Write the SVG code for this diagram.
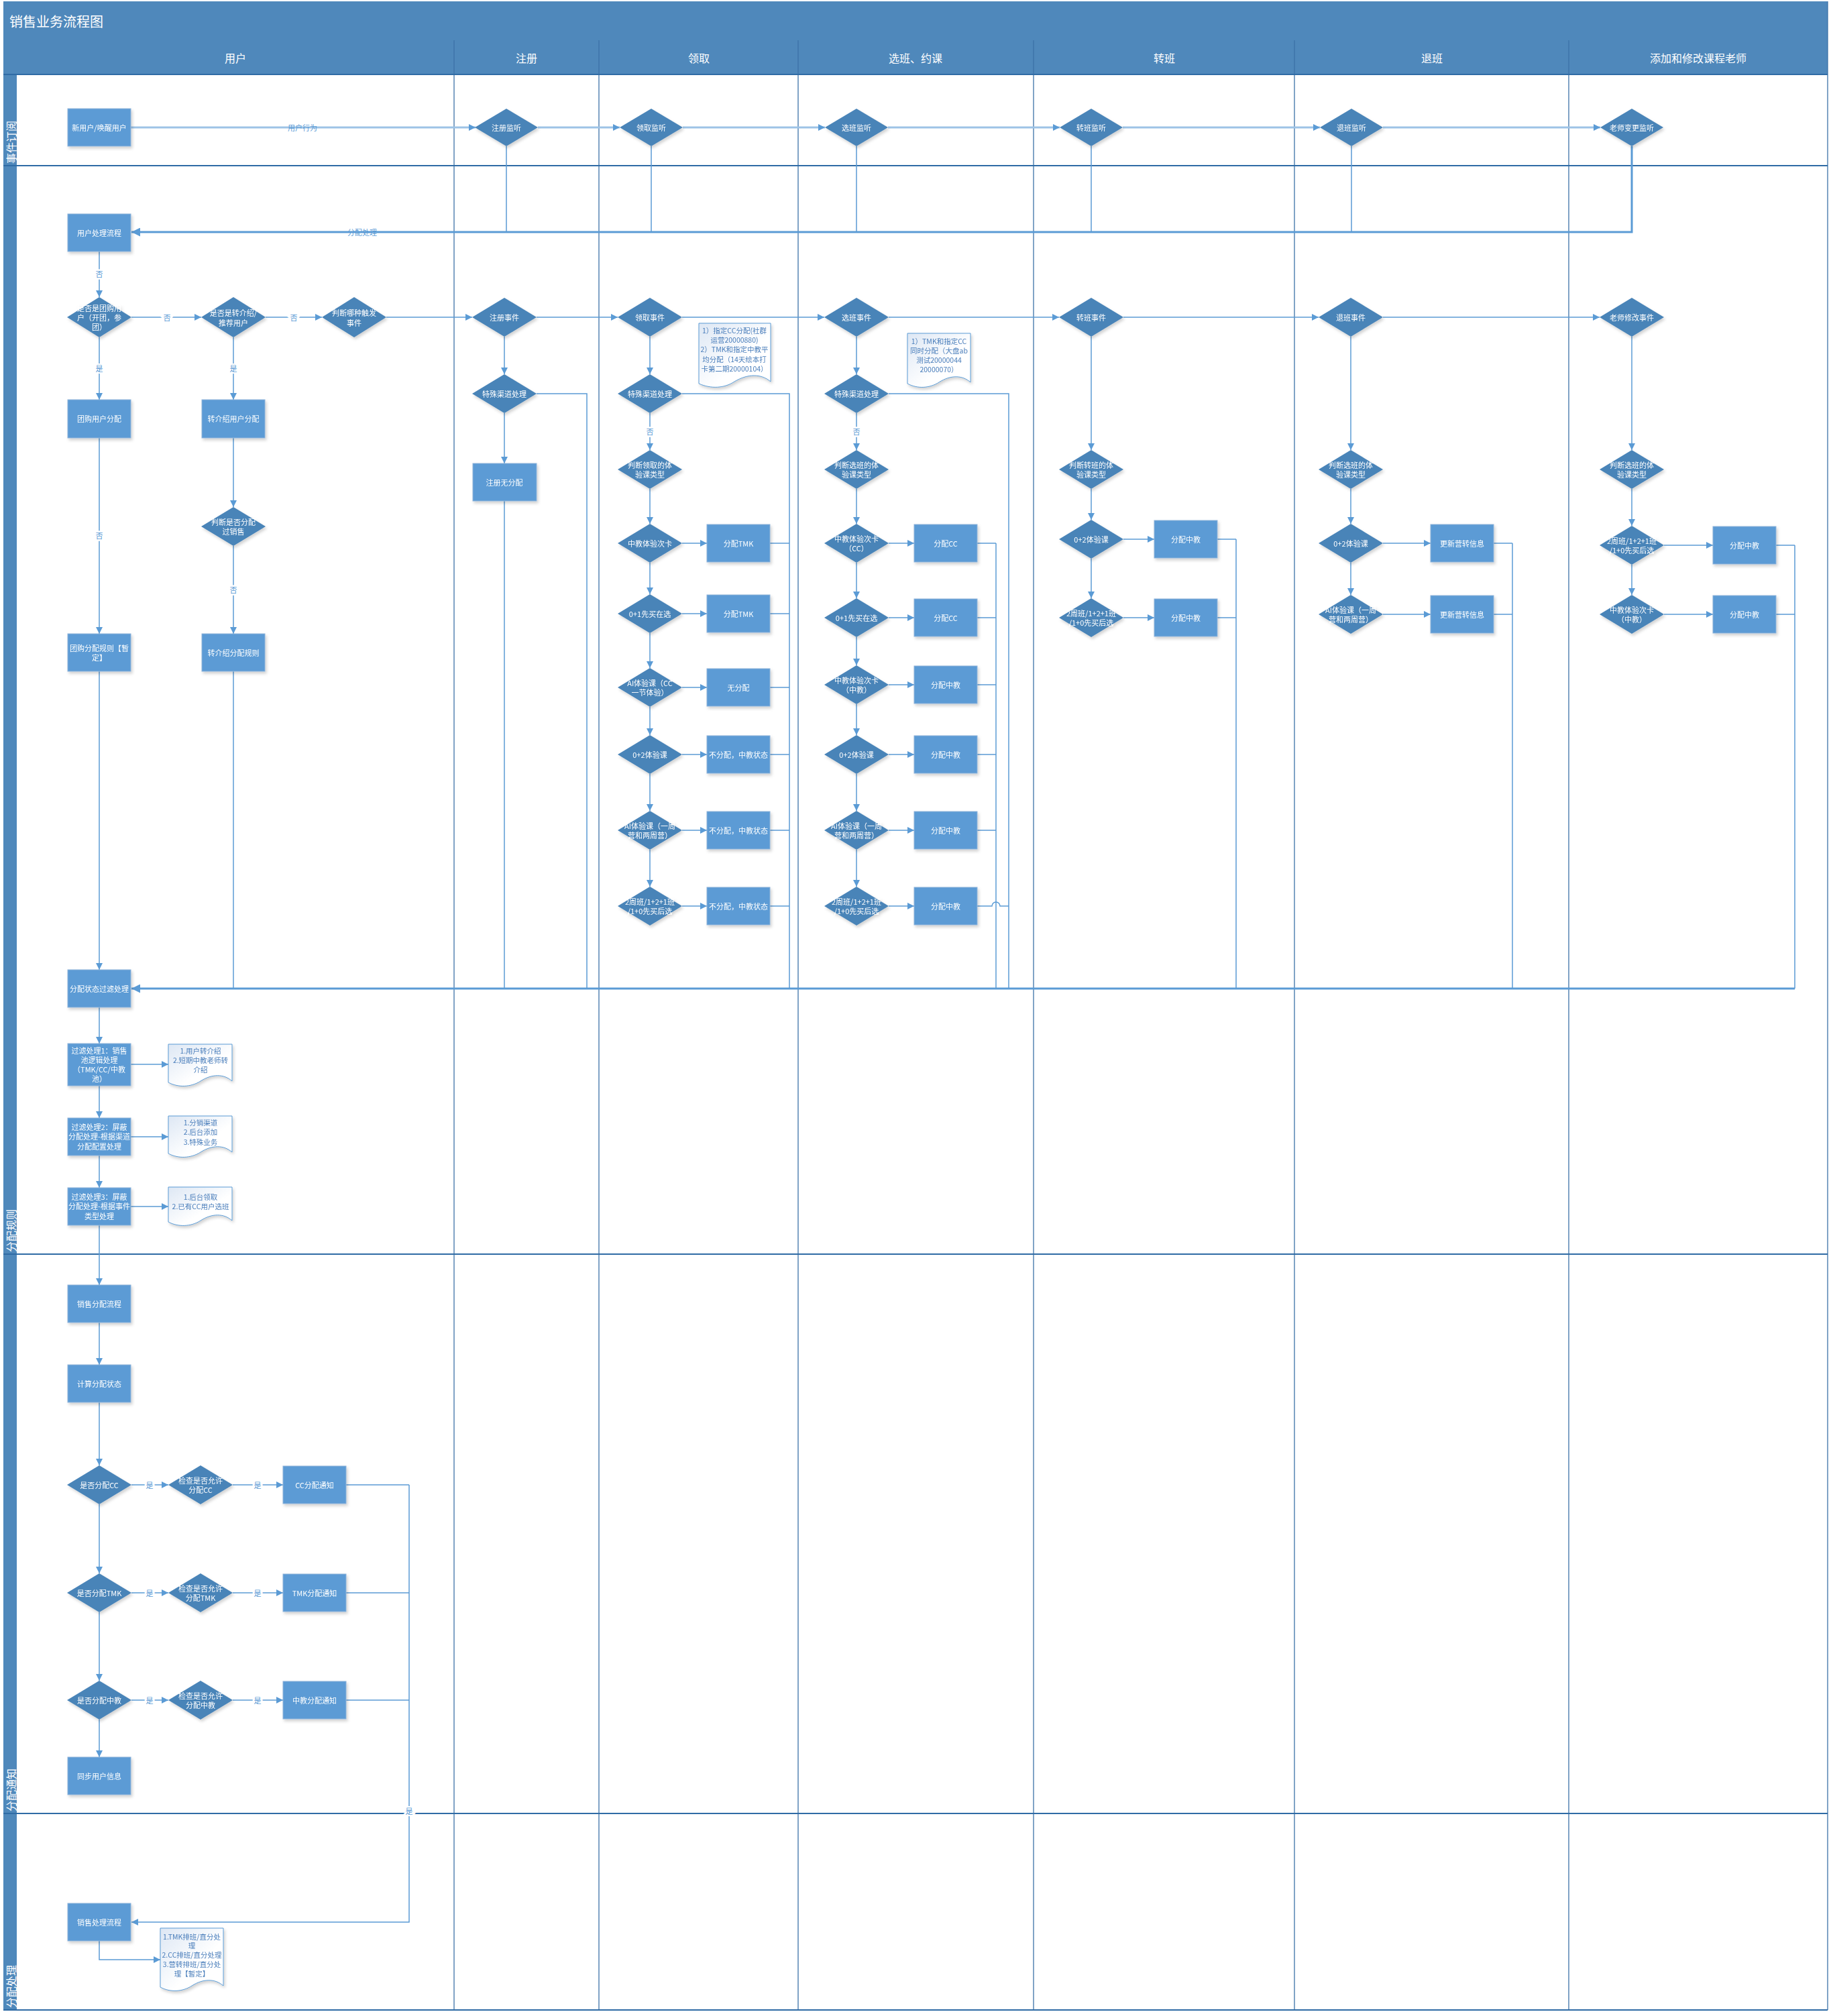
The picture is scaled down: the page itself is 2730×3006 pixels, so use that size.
<svg xmlns="http://www.w3.org/2000/svg" width="2730" height="3006" viewBox="0 0 2730 3006">
<style>
text{font-family:"Noto Sans CJK SC","Noto Sans",sans-serif}
.r{fill:#5B9BD5;stroke:#8FB3D9;stroke-width:1}
.d{fill:#4A84B8}
.t{font-size:11px;fill:#fff;text-anchor:middle;dominant-baseline:central}
.nt{font-size:10.5px;fill:#4A7EBB;text-anchor:middle;dominant-baseline:central}
.note{fill:url(#ng);stroke:#5B9BD5;stroke-width:1}
.ln{stroke:#5B9BD5;stroke-width:1.5;fill:none}
.la{stroke:#5B9BD5;stroke-width:1.5;fill:none;marker-end:url(#a)}
.lt{stroke:#9DC3E6;stroke-width:3;fill:none;marker-end:url(#a)}
.lb{stroke:#5B9BD5;stroke-width:3;fill:none;marker-end:url(#a2)}
.lbl{font-size:11px;fill:#5B9BD5;text-anchor:middle;dominant-baseline:central}
.lh{font-size:11px;fill:#5B9BD5;text-anchor:middle;dominant-baseline:central;paint-order:stroke;stroke:#fff;stroke-width:5px}
.hd{font-size:16px;fill:#fff;text-anchor:middle;dominant-baseline:central}
.col{stroke:#3C72A8;stroke-width:1.3}
.row{stroke:#2F6BA5;stroke-width:2}
</style>
<defs>
<marker id="a" viewBox="0 0 10 10" refX="10" refY="5" markerWidth="10" markerHeight="10" markerUnits="userSpaceOnUse" orient="auto"><path d="M0,0 L10,5 L0,10 z" fill="#5B9BD5"/></marker>
<marker id="a2" viewBox="0 0 10 10" refX="10" refY="5" markerWidth="13" markerHeight="13" markerUnits="userSpaceOnUse" orient="auto"><path d="M0,0 L10,5 L0,10 z" fill="#5B9BD5"/></marker>
<linearGradient id="ng" x1="0" y1="0" x2="1" y2="1"><stop offset="0" stop-color="#DDE7F4"/><stop offset="0.6" stop-color="#FFFFFF"/></linearGradient>
<filter id="sh" x="-20%" y="-20%" width="150%" height="150%"><feDropShadow dx="2" dy="3" stdDeviation="2" flood-color="#000" flood-opacity="0.18"/></filter>
</defs>
<rect x="0" y="0" width="2730" height="3006" fill="#fff"/>

<g id="frame">
<rect x="5" y="2" width="2720" height="58" fill="#4F88BB"/>
<text x="14" y="31" font-size="20" fill="#fff" dominant-baseline="central">销售业务流程图</text>
<rect x="25" y="60" width="2700" height="51" fill="#4F88BB"/>
<rect x="5" y="60" width="20" height="2937" fill="#4F88BB"/>
<text class="hd" x="351" y="86">用户</text>
<text class="hd" x="785" y="86">注册</text>
<text class="hd" x="1042" y="86">领取</text>
<text class="hd" x="1365" y="86">选班、约课</text>
<text class="hd" x="1736" y="86">转班</text>
<text class="hd" x="2135" y="86">退班</text>
<text class="hd" x="2532" y="86">添加和修改课程老师</text>
<line class="col" x1="677" y1="60" x2="677" y2="2997"/>
<line class="col" x1="893" y1="60" x2="893" y2="2997"/>
<line class="col" x1="1190" y1="60" x2="1190" y2="2997"/>
<line class="col" x1="1541" y1="60" x2="1541" y2="2997"/>
<line class="col" x1="1930" y1="60" x2="1930" y2="2997"/>
<line class="col" x1="2339" y1="60" x2="2339" y2="2997"/>
<line class="col" x1="2725" y1="2" x2="2725" y2="2997" stroke-width="2.5"/>
<line class="row" x1="5" y1="111" x2="2725" y2="111" stroke-width="1"/>
<line class="row" x1="5" y1="247" x2="2725" y2="247"/>
<line class="row" x1="5" y1="1870" x2="2725" y2="1870"/>
<line class="row" x1="5" y1="2704" x2="2725" y2="2704"/>
<line class="row" x1="5" y1="2997" x2="2725" y2="2997"/>
<text class="hd" transform="translate(16,244) rotate(-90)" text-anchor="start" style="text-anchor:start">事件订阅</text>
<text class="hd" transform="translate(16,1867) rotate(-90)" style="text-anchor:start">分配规则</text>
<text class="hd" transform="translate(16,2701) rotate(-90)" style="text-anchor:start">分配通知</text>
<text class="hd" transform="translate(16,2994) rotate(-90)" style="text-anchor:start">分配处理</text>
</g>

<g id="connectors">
<!-- row 1 -->
<path class="lt" d="M195,190 H709"/>
<text class="lbl" x="451" y="190">用户行为</text>
<path class="lt" d="M802,190 H924"/>
<path class="lt" d="M1018,190 H1230"/>
<path class="lt" d="M1324,190 H1580"/>
<path class="lt" d="M1674,190 H1968"/>
<path class="lt" d="M2062,190 H2386"/>
<path class="ln" d="M755,218 V346 M971,218 V346 M1277,218 V346 M1627,218 V346 M2015,218 V346"/>
<path class="lb" d="M2433,218 V346 H196" stroke-width="2.5"/>
<text class="lbl" x="540" y="346">分配处理</text>
<!-- user flow -->
<path class="la" d="M148,375 V443"/>
<text class="lh" x="148" y="408">否</text>
<path class="la" d="M196,473 H300"/>
<text class="lh" x="249" y="473">否</text>
<path class="la" d="M396,473 H480"/>
<text class="lh" x="438" y="473">否</text>
<path class="la" d="M576,473 H704"/>
<path class="la" d="M800,473 H921"/>
<path class="la" d="M1017,473 H1229"/>
<path class="la" d="M1325,473 H1579"/>
<path class="la" d="M1675,473 H1966"/>
<path class="la" d="M2062,473 H2385"/>
<path class="la" d="M148,503 V596"/>
<text class="lh" x="148" y="549">是</text>
<path class="la" d="M348,503 V596"/>
<text class="lh" x="348" y="549">是</text>
<path class="la" d="M148,653 V945"/>
<text class="lh" x="148" y="798">否</text>
<path class="la" d="M348,653 V756"/>
<path class="la" d="M348,814 V945"/>
<text class="lh" x="348" y="879">否</text>
<path class="la" d="M148,1001 V1446"/>
<path class="ln" d="M348,1001 V1474"/>
<!-- 注册 -->
<path class="la" d="M752,502 V558"/>
<path class="la" d="M752,616 V691"/>
<path class="ln" d="M752,747 V1474"/>
<path class="ln" d="M800,587 H875 V1474"/>
<!-- 领取 -->
<path class="la" d="M969,502 V558"/>
<path class="la" d="M969,616 V671"/>
<text class="lh" x="969" y="643">否</text>
<path class="la" d="M969,729 V781"/>
<path class="la" d="M969,839 V886"/>
<path class="la" d="M969,944 V996"/>
<path class="la" d="M969,1054 V1096"/>
<path class="la" d="M969,1154 V1209"/>
<path class="la" d="M969,1267 V1322"/>
<path class="la" d="M1017,810 H1054"/>
<path class="la" d="M1017,915 H1054"/>
<path class="la" d="M1017,1025 H1054"/>
<path class="la" d="M1017,1125 H1054"/>
<path class="la" d="M1017,1238 H1054"/>
<path class="la" d="M1017,1351 H1054"/>
<path class="ln" d="M1148,810 H1177 M1148,915 H1177 M1148,1025 H1177 M1148,1125 H1177 M1148,1238 H1177 M1148,1351 H1177"/>
<path class="ln" d="M1017,587 H1177 V1474"/>
<!-- 选班 -->
<path class="la" d="M1277,502 V558"/>
<path class="la" d="M1277,616 V671"/>
<text class="lh" x="1277" y="643">否</text>
<path class="la" d="M1277,729 V781"/>
<path class="la" d="M1277,839 V892"/>
<path class="la" d="M1277,950 V992"/>
<path class="la" d="M1277,1050 V1096"/>
<path class="la" d="M1277,1154 V1209"/>
<path class="la" d="M1277,1267 V1322"/>
<path class="la" d="M1325,810 H1363"/>
<path class="la" d="M1325,921 H1363"/>
<path class="la" d="M1325,1021 H1363"/>
<path class="la" d="M1325,1125 H1363"/>
<path class="la" d="M1325,1238 H1363"/>
<path class="la" d="M1325,1351 H1363"/>
<path class="ln" d="M1457,810 H1485 M1457,921 H1485 M1457,1021 H1485 M1457,1125 H1485 M1457,1238 H1485"/>
<path class="ln" d="M1485,810 V1474"/>
<path class="ln" d="M1457,1351 H1479 A6,6 0 0 1 1491,1351 H1504"/>
<path class="ln" d="M1325,587 H1504 V1474"/>
<!-- 转班 -->
<path class="la" d="M1627,502 V671"/>
<path class="la" d="M1627,729 V775"/>
<path class="la" d="M1627,833 V892"/>
<path class="la" d="M1675,804 H1721"/>
<path class="la" d="M1675,921 H1721"/>
<path class="ln" d="M1815,804 H1843 M1815,921 H1843 M1843,804 V1474"/>
<!-- 退班 -->
<path class="la" d="M2014,502 V671"/>
<path class="la" d="M2014,729 V781"/>
<path class="la" d="M2014,839 V887"/>
<path class="la" d="M2062,810 H2133"/>
<path class="la" d="M2062,916 H2133"/>
<path class="ln" d="M2227,810 H2255 M2227,916 H2255 M2255,810 V1474"/>
<!-- 添加 -->
<path class="la" d="M2433,502 V671"/>
<path class="la" d="M2433,729 V784"/>
<path class="la" d="M2433,842 V887"/>
<path class="la" d="M2481,813 H2554"/>
<path class="la" d="M2481,916 H2554"/>
<path class="ln" d="M2648,813 H2676 M2648,916 H2676 M2676,813 V1474"/>
<!-- collector -->
<path class="lb" d="M2676,1474 H196"/>
<!-- filters -->
<path class="la" d="M148,1502 V1556"/>
<path class="la" d="M148,1619 V1667"/>
<path class="la" d="M148,1723 V1771"/>
<path class="la" d="M148,1827 V1916"/>
<path class="la" d="M195,1587 H251"/>
<path class="la" d="M195,1695 H251"/>
<path class="la" d="M195,1799 H251"/>
<!-- notify -->
<path class="la" d="M148,1972 V2035"/>
<path class="la" d="M148,2091 V2185"/>
<path class="la" d="M148,2243 V2346"/>
<path class="la" d="M148,2404 V2506"/>
<path class="la" d="M148,2564 V2620"/>
<path class="la" d="M196,2214 H251"/>
<text class="lh" x="223" y="2214">是</text>
<path class="la" d="M347,2214 H422"/>
<text class="lh" x="384" y="2214">是</text>
<path class="la" d="M196,2375 H251"/>
<text class="lh" x="223" y="2375">是</text>
<path class="la" d="M347,2375 H422"/>
<text class="lh" x="384" y="2375">是</text>
<path class="la" d="M196,2535 H251"/>
<text class="lh" x="223" y="2535">是</text>
<path class="la" d="M347,2535 H422"/>
<text class="lh" x="384" y="2535">是</text>
<path class="ln" d="M516,2214 H610 M516,2375 H610 M516,2535 H610"/>
<path class="la" d="M610,2214 V2866 H196" stroke-width="2"/>
<text class="lh" x="610" y="2700">是</text>
<path class="la" d="M148,2893 V2922 H239"/>
</g>

<g id="nodes" filter="url(#sh)">
<!-- row 1 -->
<g id="n-newuser"><rect class="r" x="101" y="162" width="94" height="56"/><text class="t" x="148" y="190">新用户/唤醒用户</text></g>
<g id="n-reg-listen"><polygon class="d" points="755,162 802,190 755,218 708,190"/><text class="t" x="755" y="190">注册监听</text></g>
<g id="n-get-listen"><polygon class="d" points="971,162 1018,190 971,218 924,190"/><text class="t" x="971" y="190">领取监听</text></g>
<g id="n-sel-listen"><polygon class="d" points="1277,162 1324,190 1277,218 1230,190"/><text class="t" x="1277" y="190">选班监听</text></g>
<g id="n-tr-listen"><polygon class="d" points="1627,162 1674,190 1627,218 1580,190"/><text class="t" x="1627" y="190">转班监听</text></g>
<g id="n-quit-listen"><polygon class="d" points="2015,162 2062,190 2015,218 1968,190"/><text class="t" x="2015" y="190">退班监听</text></g>
<g id="n-tch-listen"><polygon class="d" points="2433,162 2480,190 2433,218 2386,190"/><text class="t" x="2433" y="190">老师变更监听</text></g>

<!-- user column -->
<g id="n-userproc"><rect class="r" x="101" y="319" width="94" height="56"/><text class="t" x="148" y="347">用户处理流程</text></g>
<g id="n-isgroup"><polygon class="d" points="148,443 196,473 148,503 100,473"/><text class="t" x="148" y="459">是否是团购用</text><text class="t" x="148" y="473">户（开团，参</text><text class="t" x="148" y="487">团）</text></g>
<g id="n-isref"><polygon class="d" points="348,443 396,473 348,503 300,473"/><text class="t" x="348" y="466">是否是转介绍/</text><text class="t" x="348" y="481">推荐用户</text></g>
<g id="n-trigger"><polygon class="d" points="528,443 576,473 528,503 480,473"/><text class="t" x="528" y="466">判断哪种触发</text><text class="t" x="528" y="481">事件</text></g>
<g id="n-groupalloc"><rect class="r" x="101" y="596" width="94" height="57"/><text class="t" x="148" y="624">团购用户分配</text></g>
<g id="n-refalloc"><rect class="r" x="301" y="596" width="94" height="57"/><text class="t" x="348" y="624">转介绍用户分配</text></g>
<g id="n-sold"><polygon class="d" points="348,756 396,785 348,814 300,785"/><text class="t" x="348" y="778">判断是否分配</text><text class="t" x="348" y="792">过销售</text></g>
<g id="n-grouprule"><rect class="r" x="101" y="945" width="94" height="56"/><text class="t" x="148" y="966">团购分配规则【暂</text><text class="t" x="148" y="980">定】</text></g>
<g id="n-refrule"><rect class="r" x="301" y="945" width="94" height="56"/><text class="t" x="348" y="973">转介绍分配规则</text></g>

<!-- 注册 -->
<g id="n-reg-ev"><polygon class="d" points="752,444 800,473 752,502 704,473"/><text class="t" x="752" y="473">注册事件</text></g>
<g id="n-reg-sp"><polygon class="d" points="752,558 800,587 752,616 704,587"/><text class="t" x="752" y="587">特殊渠道处理</text></g>
<g id="n-reg-none"><rect class="r" x="705" y="691" width="95" height="56"/><text class="t" x="752" y="719">注册无分配</text></g>

<!-- 领取 -->
<g id="n-get-ev"><polygon class="d" points="969,444 1017,473 969,502 921,473"/><text class="t" x="969" y="473">领取事件</text></g>
<g id="n-get-note"><path class="note" d="M1042,482 H1149 V569 C1135,557 1115,557 1095,569 C1080,579 1060,580 1042,572 Z"/><text class="nt" x="1095" y="492">1）指定CC分配(社群</text><text class="nt" x="1095" y="506">运营20000880)</text><text class="nt" x="1095" y="520">2）TMK和指定中教平</text><text class="nt" x="1095" y="535">均分配（14天绘本打</text><text class="nt" x="1095" y="549">卡第二期20000104）</text></g>
<g id="n-get-sp"><polygon class="d" points="969,558 1017,587 969,616 921,587"/><text class="t" x="969" y="587">特殊渠道处理</text></g>
<g id="n-get-type"><polygon class="d" points="969,671 1017,700 969,729 921,700"/><text class="t" x="969" y="693">判断领取的体</text><text class="t" x="969" y="707">验课类型</text></g>
<g id="n-get-d1"><polygon class="d" points="969,781 1017,810 969,839 921,810"/><text class="t" x="969" y="810">中教体验次卡</text></g>
<g id="n-get-b1"><rect class="r" x="1054" y="782" width="94" height="56"/><text class="t" x="1101" y="810">分配TMK</text></g>
<g id="n-get-d2"><polygon class="d" points="969,886 1017,915 969,944 921,915"/><text class="t" x="969" y="915">0+1先买在选</text></g>
<g id="n-get-b2"><rect class="r" x="1054" y="887" width="94" height="56"/><text class="t" x="1101" y="915">分配TMK</text></g>
<g id="n-get-d3"><polygon class="d" points="969,996 1017,1025 969,1054 921,1025"/><text class="t" x="969" y="1018">AI体验课（CC</text><text class="t" x="969" y="1032">一节体验）</text></g>
<g id="n-get-b3"><rect class="r" x="1054" y="997" width="94" height="56"/><text class="t" x="1101" y="1025">无分配</text></g>
<g id="n-get-d4"><polygon class="d" points="969,1096 1017,1125 969,1154 921,1125"/><text class="t" x="969" y="1125">0+2体验课</text></g>
<g id="n-get-b4"><rect class="r" x="1054" y="1097" width="94" height="56"/><text class="t" x="1101" y="1125">不分配，中教状态</text></g>
<g id="n-get-d5"><polygon class="d" points="969,1209 1017,1238 969,1267 921,1238"/><text class="t" x="969" y="1231">AI体验课（一周</text><text class="t" x="969" y="1245">营和两周营）</text></g>
<g id="n-get-b5"><rect class="r" x="1054" y="1210" width="94" height="56"/><text class="t" x="1101" y="1238">不分配，中教状态</text></g>
<g id="n-get-d6"><polygon class="d" points="969,1322 1017,1351 969,1380 921,1351"/><text class="t" x="969" y="1344">2周班/1+2+1班</text><text class="t" x="969" y="1358">/1+0先买后选</text></g>
<g id="n-get-b6"><rect class="r" x="1054" y="1323" width="94" height="56"/><text class="t" x="1101" y="1351">不分配，中教状态</text></g>

<!-- 选班 -->
<g id="n-sel-ev"><polygon class="d" points="1277,444 1325,473 1277,502 1229,473"/><text class="t" x="1277" y="473">选班事件</text></g>
<g id="n-sel-note"><path class="note" d="M1353,497 H1447 V570 C1435,559 1417,559 1400,570 C1386,579 1368,580 1353,572 Z"/><text class="nt" x="1400" y="508">1）TMK和指定CC</text><text class="nt" x="1400" y="522">同时分配（大盘ab</text><text class="nt" x="1400" y="536">测试20000044</text><text class="nt" x="1400" y="550">20000070）</text></g>
<g id="n-sel-sp"><polygon class="d" points="1277,558 1325,587 1277,616 1229,587"/><text class="t" x="1277" y="587">特殊渠道处理</text></g>
<g id="n-sel-type"><polygon class="d" points="1277,671 1325,700 1277,729 1229,700"/><text class="t" x="1277" y="693">判断选班的体</text><text class="t" x="1277" y="707">验课类型</text></g>
<g id="n-sel-d1"><polygon class="d" points="1277,781 1325,810 1277,839 1229,810"/><text class="t" x="1277" y="803">中教体验次卡</text><text class="t" x="1277" y="817">（CC）</text></g>
<g id="n-sel-b1"><rect class="r" x="1363" y="782" width="94" height="56"/><text class="t" x="1410" y="810">分配CC</text></g>
<g id="n-sel-d2"><polygon class="d" points="1277,892 1325,921 1277,950 1229,921"/><text class="t" x="1277" y="921">0+1先买在选</text></g>
<g id="n-sel-b2"><rect class="r" x="1363" y="893" width="94" height="56"/><text class="t" x="1410" y="921">分配CC</text></g>
<g id="n-sel-d3"><polygon class="d" points="1277,992 1325,1021 1277,1050 1229,1021"/><text class="t" x="1277" y="1014">中教体验次卡</text><text class="t" x="1277" y="1028">（中教）</text></g>
<g id="n-sel-b3"><rect class="r" x="1363" y="993" width="94" height="56"/><text class="t" x="1410" y="1021">分配中教</text></g>
<g id="n-sel-d4"><polygon class="d" points="1277,1096 1325,1125 1277,1154 1229,1125"/><text class="t" x="1277" y="1125">0+2体验课</text></g>
<g id="n-sel-b4"><rect class="r" x="1363" y="1097" width="94" height="56"/><text class="t" x="1410" y="1125">分配中教</text></g>
<g id="n-sel-d5"><polygon class="d" points="1277,1209 1325,1238 1277,1267 1229,1238"/><text class="t" x="1277" y="1231">AI体验课（一周</text><text class="t" x="1277" y="1245">营和两周营）</text></g>
<g id="n-sel-b5"><rect class="r" x="1363" y="1210" width="94" height="56"/><text class="t" x="1410" y="1238">分配中教</text></g>
<g id="n-sel-d6"><polygon class="d" points="1277,1322 1325,1351 1277,1380 1229,1351"/><text class="t" x="1277" y="1344">2周班/1+2+1班</text><text class="t" x="1277" y="1358">/1+0先买后选</text></g>
<g id="n-sel-b6"><rect class="r" x="1363" y="1323" width="94" height="56"/><text class="t" x="1410" y="1351">分配中教</text></g>

<!-- 转班 -->
<g id="n-tr-ev"><polygon class="d" points="1627,444 1675,473 1627,502 1579,473"/><text class="t" x="1627" y="473">转班事件</text></g>
<g id="n-tr-type"><polygon class="d" points="1627,671 1675,700 1627,729 1579,700"/><text class="t" x="1627" y="693">判断转班的体</text><text class="t" x="1627" y="707">验课类型</text></g>
<g id="n-tr-d1"><polygon class="d" points="1627,775 1675,804 1627,833 1579,804"/><text class="t" x="1627" y="804">0+2体验课</text></g>
<g id="n-tr-b1"><rect class="r" x="1721" y="776" width="94" height="56"/><text class="t" x="1768" y="804">分配中教</text></g>
<g id="n-tr-d2"><polygon class="d" points="1627,892 1675,921 1627,950 1579,921"/><text class="t" x="1627" y="914">2周班/1+2+1班</text><text class="t" x="1627" y="928">/1+0先买后选</text></g>
<g id="n-tr-b2"><rect class="r" x="1721" y="893" width="94" height="56"/><text class="t" x="1768" y="921">分配中教</text></g>

<!-- 退班 -->
<g id="n-quit-ev"><polygon class="d" points="2014,444 2062,473 2014,502 1966,473"/><text class="t" x="2014" y="473">退班事件</text></g>
<g id="n-quit-type"><polygon class="d" points="2014,671 2062,700 2014,729 1966,700"/><text class="t" x="2014" y="693">判断选班的体</text><text class="t" x="2014" y="707">验课类型</text></g>
<g id="n-quit-d1"><polygon class="d" points="2014,781 2062,810 2014,839 1966,810"/><text class="t" x="2014" y="810">0+2体验课</text></g>
<g id="n-quit-b1"><rect class="r" x="2133" y="782" width="94" height="56"/><text class="t" x="2180" y="810">更新营转信息</text></g>
<g id="n-quit-d2"><polygon class="d" points="2014,887 2062,916 2014,945 1966,916"/><text class="t" x="2014" y="909">AI体验课（一周</text><text class="t" x="2014" y="923">营和两周营）</text></g>
<g id="n-quit-b2"><rect class="r" x="2133" y="888" width="94" height="56"/><text class="t" x="2180" y="916">更新营转信息</text></g>

<!-- 添加和修改课程老师 -->
<g id="n-tch-ev"><polygon class="d" points="2433,444 2481,473 2433,502 2385,473"/><text class="t" x="2433" y="473">老师修改事件</text></g>
<g id="n-tch-type"><polygon class="d" points="2433,671 2481,700 2433,729 2385,700"/><text class="t" x="2433" y="693">判断选班的体</text><text class="t" x="2433" y="707">验课类型</text></g>
<g id="n-tch-d1"><polygon class="d" points="2433,784 2481,813 2433,842 2385,813"/><text class="t" x="2433" y="806">2周班/1+2+1班</text><text class="t" x="2433" y="820">/1+0先买后选</text></g>
<g id="n-tch-b1"><rect class="r" x="2554" y="785" width="94" height="56"/><text class="t" x="2601" y="813">分配中教</text></g>
<g id="n-tch-d2"><polygon class="d" points="2433,887 2481,916 2433,945 2385,916"/><text class="t" x="2433" y="909">中教体验次卡</text><text class="t" x="2433" y="923">（中教）</text></g>
<g id="n-tch-b2"><rect class="r" x="2554" y="888" width="94" height="56"/><text class="t" x="2601" y="916">分配中教</text></g>

<!-- rules -->
<g id="n-filter"><rect class="r" x="101" y="1446" width="94" height="56"/><text class="t" x="148" y="1474">分配状态过滤处理</text></g>
<g id="n-f1"><rect class="r" x="101" y="1556" width="94" height="63"/><text class="t" x="148" y="1566">过滤处理1：销售</text><text class="t" x="148" y="1580">池逻辑处理</text><text class="t" x="148" y="1594">（TMK/CC/中教</text><text class="t" x="148" y="1608">池）</text></g>
<g id="n-note1"><path class="note" d="M251,1557 H346 V1612 C334,1601 316,1601 299,1612 C285,1621 266,1622 251,1614 Z"/><text class="nt" x="299" y="1566">1.用户转介绍</text><text class="nt" x="299" y="1580">2.短期中教老师转</text><text class="nt" x="299" y="1594">介绍</text></g>
<g id="n-f2"><rect class="r" x="101" y="1667" width="94" height="56"/><text class="t" x="148" y="1680">过滤处理2：屏蔽</text><text class="t" x="148" y="1694">分配处理-根据渠道</text><text class="t" x="148" y="1709">分配配置处理</text></g>
<g id="n-note2"><path class="note" d="M251,1664 H346 V1718 C334,1707 316,1707 299,1718 C285,1727 266,1728 251,1720 Z"/><text class="nt" x="299" y="1673">1.分销渠道</text><text class="nt" x="299" y="1687">2.后台添加</text><text class="nt" x="299" y="1702">3.特殊业务</text></g>
<g id="n-f3"><rect class="r" x="101" y="1771" width="94" height="56"/><text class="t" x="148" y="1784">过滤处理3：屏蔽</text><text class="t" x="148" y="1798">分配处理-根据事件</text><text class="t" x="148" y="1813">类型处理</text></g>
<g id="n-note3"><path class="note" d="M251,1770 H346 V1820 C334,1809 316,1809 299,1820 C285,1829 266,1830 251,1822 Z"/><text class="nt" x="299" y="1784">1.后台领取</text><text class="nt" x="299" y="1798">2.已有CC用户选班</text></g>

<!-- notify -->
<g id="n-salesflow"><rect class="r" x="101" y="1916" width="94" height="56"/><text class="t" x="148" y="1944">销售分配流程</text></g>
<g id="n-calc"><rect class="r" x="101" y="2035" width="94" height="56"/><text class="t" x="148" y="2063">计算分配状态</text></g>
<g id="n-iscc"><polygon class="d" points="148,2185 196,2214 148,2243 100,2214"/><text class="t" x="148" y="2214">是否分配CC</text></g>
<g id="n-chkcc"><polygon class="d" points="299,2185 347,2214 299,2243 251,2214"/><text class="t" x="299" y="2207">检查是否允许</text><text class="t" x="299" y="2221">分配CC</text></g>
<g id="n-ccn"><rect class="r" x="422" y="2186" width="94" height="56"/><text class="t" x="469" y="2214">CC分配通知</text></g>
<g id="n-istmk"><polygon class="d" points="148,2346 196,2375 148,2404 100,2375"/><text class="t" x="148" y="2375">是否分配TMK</text></g>
<g id="n-chktmk"><polygon class="d" points="299,2346 347,2375 299,2404 251,2375"/><text class="t" x="299" y="2368">检查是否允许</text><text class="t" x="299" y="2382">分配TMK</text></g>
<g id="n-tmkn"><rect class="r" x="422" y="2347" width="94" height="56"/><text class="t" x="469" y="2375">TMK分配通知</text></g>
<g id="n-iszj"><polygon class="d" points="148,2506 196,2535 148,2564 100,2535"/><text class="t" x="148" y="2535">是否分配中教</text></g>
<g id="n-chkzj"><polygon class="d" points="299,2506 347,2535 299,2564 251,2535"/><text class="t" x="299" y="2528">检查是否允许</text><text class="t" x="299" y="2542">分配中教</text></g>
<g id="n-zjn"><rect class="r" x="422" y="2507" width="94" height="56"/><text class="t" x="469" y="2535">中教分配通知</text></g>
<g id="n-sync"><rect class="r" x="101" y="2620" width="94" height="56"/><text class="t" x="148" y="2648">同步用户信息</text></g>

<!-- process -->
<g id="n-salesproc"><rect class="r" x="101" y="2838" width="94" height="56"/><text class="t" x="148" y="2866">销售处理流程</text></g>
<g id="n-note4"><path class="note" d="M239,2875 H333 V2961 C321,2950 303,2950 286,2961 C272,2970 254,2971 239,2963 Z"/><text class="nt" x="286" y="2887">1.TMK排班/直分处</text><text class="nt" x="286" y="2900">理</text><text class="nt" x="286" y="2914">2.CC排班/直分处理</text><text class="nt" x="286" y="2928">3.营转排班/直分处</text><text class="nt" x="286" y="2942">理【暂定】</text></g>
</g>
</svg>
